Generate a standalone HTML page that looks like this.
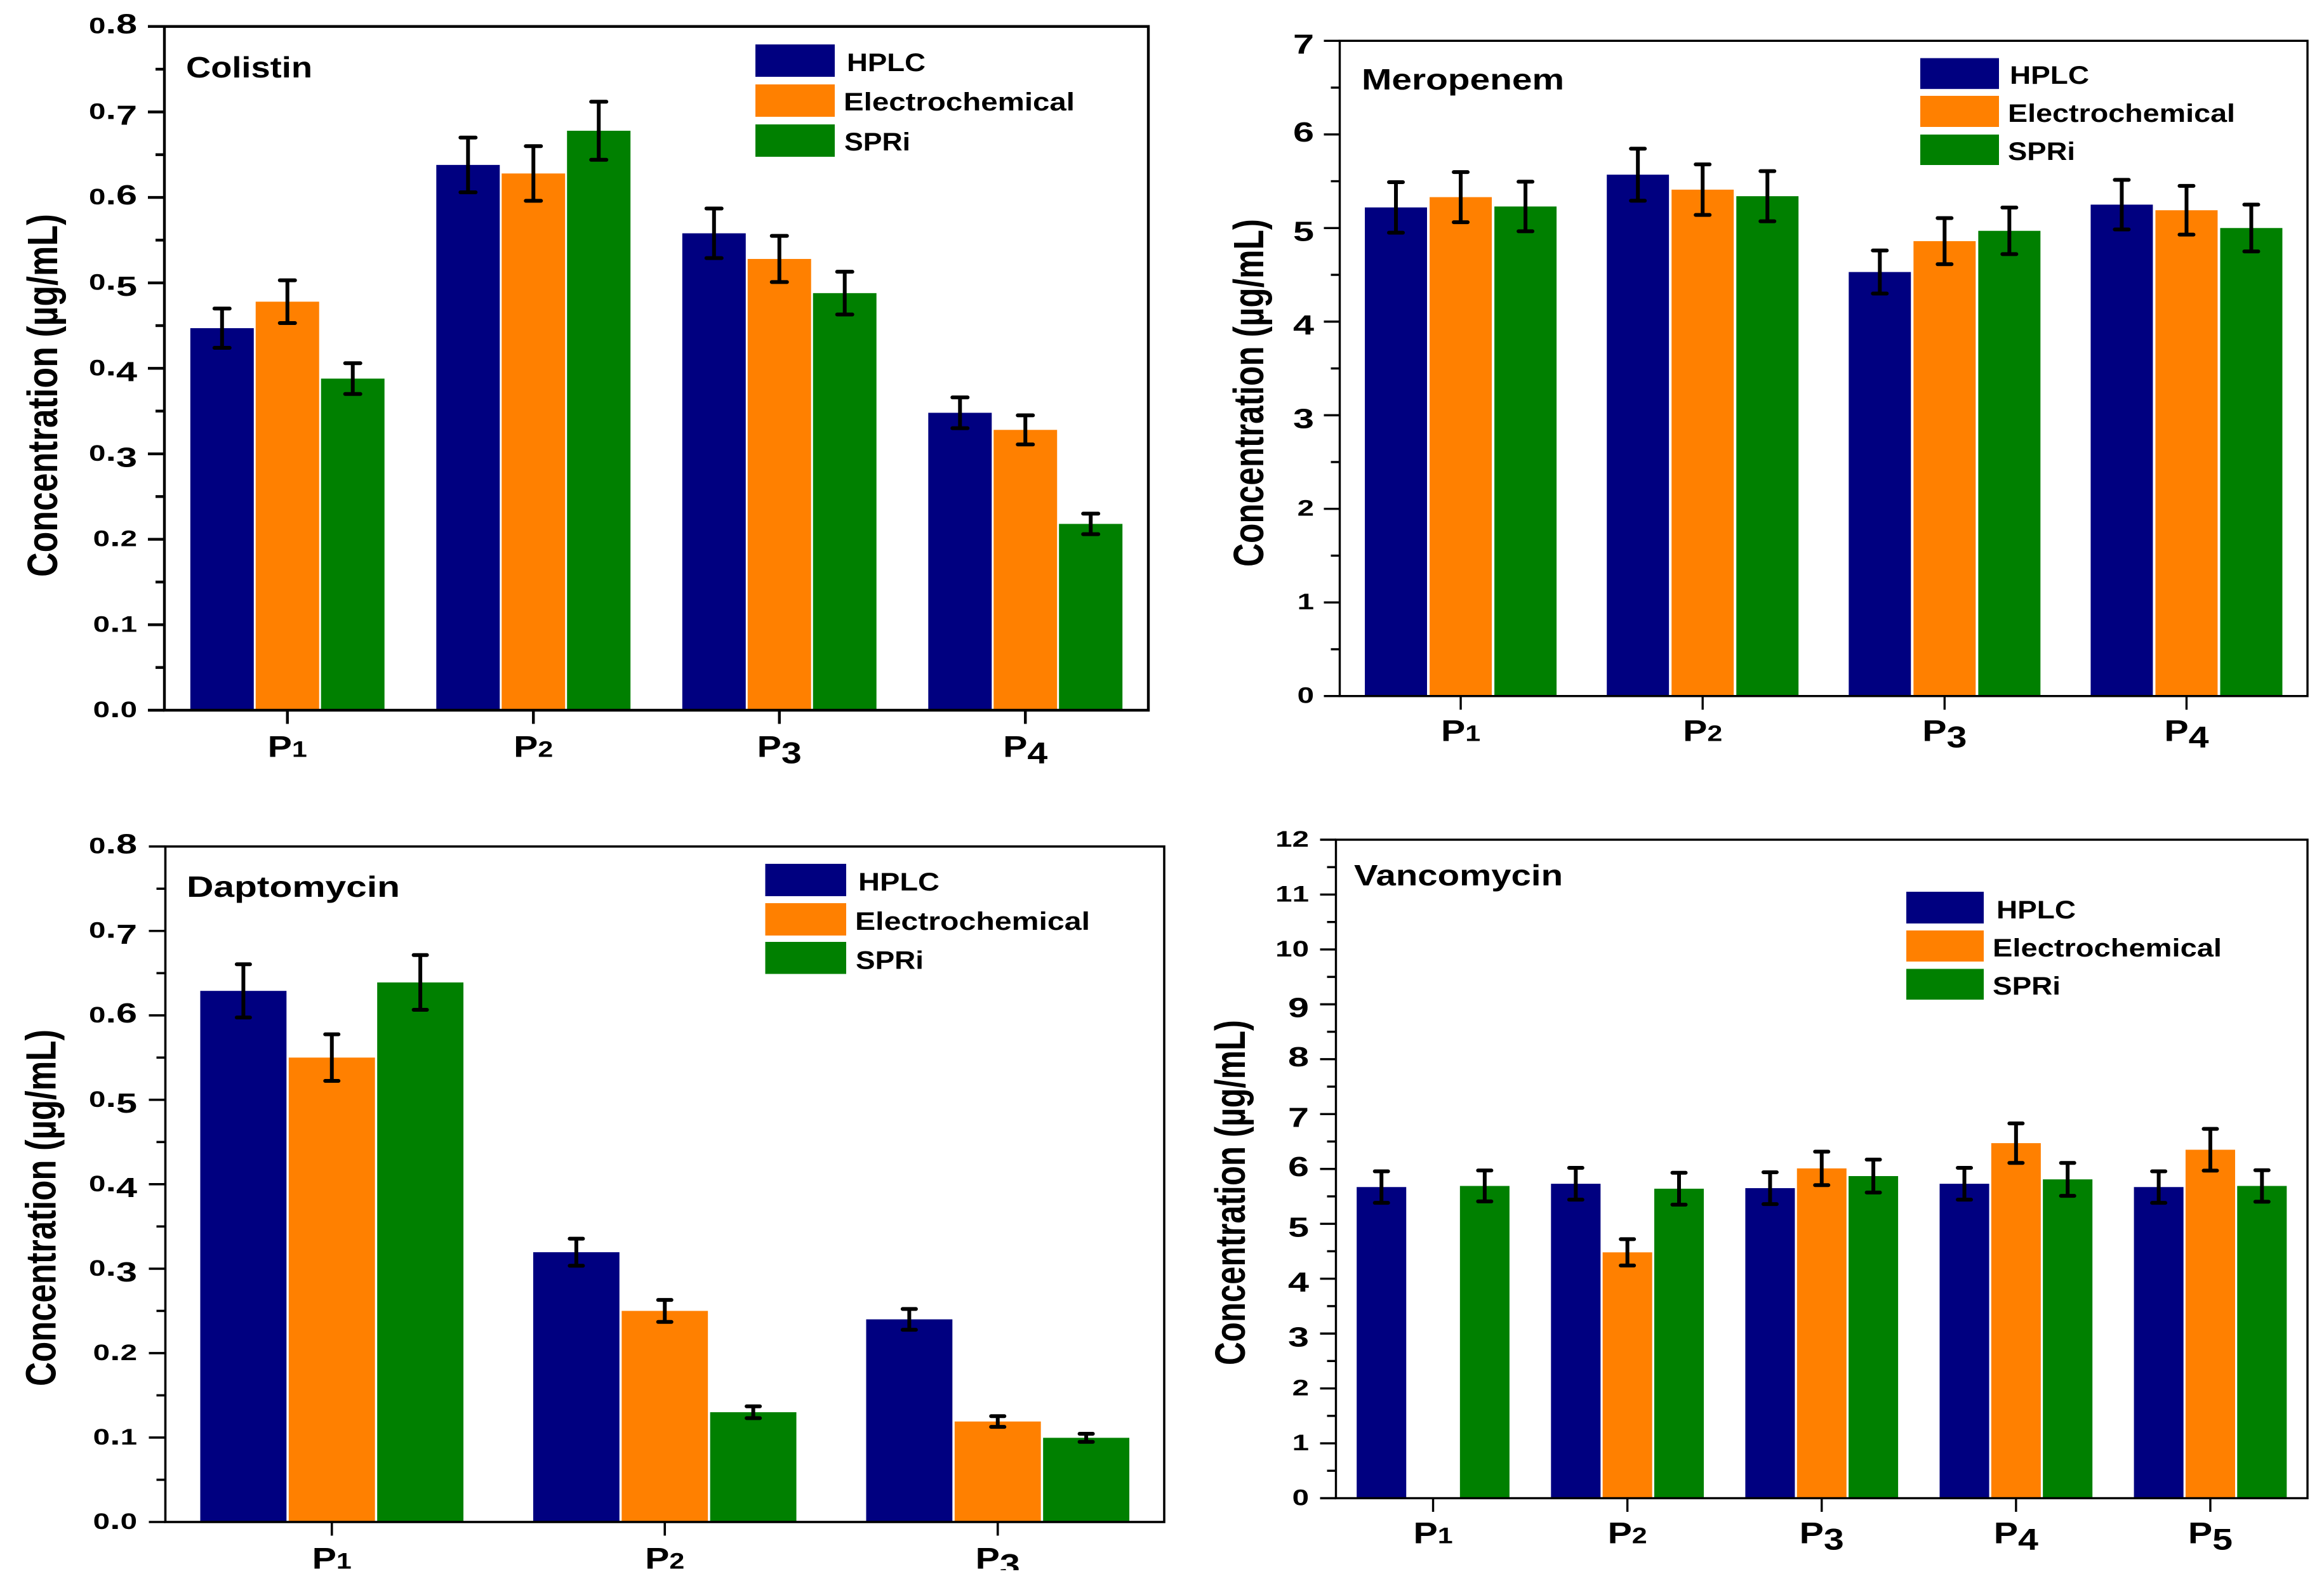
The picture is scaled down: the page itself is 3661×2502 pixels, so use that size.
<!DOCTYPE html>
<html lang="en">
<head>
<meta charset="utf-8">
<title>Antibiotic concentration comparison: HPLC, Electrochemical, SPRi</title>
<style>
  html, body { margin: 0; padding: 0; background: #ffffff; }
  body { width: 3661px; height: 2502px; overflow: hidden; }
  svg { display: block; font-family: "Liberation Sans", "DejaVu Sans", sans-serif; font-weight: 700; }
</style>
</head>
<body>
<svg id="chart" xmlns="http://www.w3.org/2000/svg" width="3661" height="2502" viewBox="0 0 3661 2502">
  <rect x="0" y="0" width="3661" height="2502" fill="#ffffff"/>
</svg>
<script>
// ---- Shared series names and colours ----
const seriesNames = ['HPLC', 'Electrochemical', 'SPRi'];
const seriesColors = ['#000080', '#ff8000', '#008000'];

// ---- Colistin ----
const colistinCategories = ['P1', 'P2', 'P3', 'P4'];
const colistinTicks = ['0.0', '0.1', '0.2', '0.3', '0.4', '0.5', '0.6', '0.7', '0.8'];
const colistinHplc = [0.447, 0.638, 0.558, 0.348];
const colistinElectro = [0.478, 0.628, 0.528, 0.328];
const colistinSpri = [0.388, 0.678, 0.488, 0.218];
const colistinHplcErr = [0.023, 0.032, 0.029, 0.018];
const colistinElectroErr = [0.025, 0.032, 0.027, 0.017];
const colistinSpriErr = [0.018, 0.034, 0.025, 0.012];

// ---- Meropenem ----
const meropenemCategories = ['P1', 'P2', 'P3', 'P4'];
const meropenemTicks = ['0', '1', '2', '3', '4', '5', '6', '7'];
const meropenemHplc = [5.22, 5.57, 4.53, 5.25];
const meropenemElectro = [5.33, 5.41, 4.86, 5.19];
const meropenemSpri = [5.23, 5.34, 4.97, 5.0];
const meropenemHplcErr = [0.27, 0.278, 0.23, 0.265];
const meropenemElectroErr = [0.268, 0.27, 0.246, 0.26];
const meropenemSpriErr = [0.265, 0.268, 0.249, 0.25];

// ---- Daptomycin ----
const daptomycinCategories = ['P1', 'P2', 'P3'];
const daptomycinTicks = ['0.0', '0.1', '0.2', '0.3', '0.4', '0.5', '0.6', '0.7', '0.8'];
const daptomycinHplc = [0.629, 0.3195, 0.24];
const daptomycinElectro = [0.55, 0.25, 0.119];
const daptomycinSpri = [0.639, 0.13, 0.0997];
const daptomycinHplcErr = [0.0315, 0.016, 0.0123];
const daptomycinElectroErr = [0.0276, 0.013, 0.0063];
const daptomycinSpriErr = [0.0324, 0.007, 0.0048];

// ---- Vancomycin ----
const vancomycinCategories = ['P1', 'P2', 'P3', 'P4', 'P5'];
const vancomycinTicks = ['0', '1', '2', '3', '4', '5', '6', '7', '8', '9', '10', '11', '12'];
const vancomycinHplc = [5.67, 5.73, 5.65, 5.73, 5.67];
const vancomycinElectro = [null, 4.48, 6.01, 6.47, 6.35];
const vancomycinSpri = [5.69, 5.64, 5.87, 5.81, 5.69];
const vancomycinHplcErr = [0.287, 0.29, 0.29, 0.29, 0.287];
const vancomycinElectroErr = [null, 0.24, 0.305, 0.36, 0.38];
const vancomycinSpriErr = [0.282, 0.29, 0.30, 0.30, 0.287];

// ---- Panel layout (geometry only) ----
const panels = [
  { key: 'colistin', title: 'Colistin', cats: colistinCategories, ticks: colistinTicks,
    vals: [colistinHplc, colistinElectro, colistinSpri],
    errs: [colistinHplcErr, colistinElectroErr, colistinSpriErr],
    left: 259, right: 1809, top: 41.7, bottom: 1119, capW: 30, lineW: 4.4,
    slotFrac: 0.2657, barFrac: 0.258, majorLen: 26,
    titleBox: [293, 122, 199], labelRight: 216, xLabelY: 1192.7,
    yTitle: [90, 909, 572],
    swatch: [1190, 125], swatchY: [[70, 51], [133, 51], [196, 51]],
    legendText: [[1334, 112, 124], [1329, 174, 364], [1330, 237, 104]] },
  { key: 'meropenem', title: 'Meropenem', cats: meropenemCategories, ticks: meropenemTicks,
    vals: [meropenemHplc, meropenemElectro, meropenemSpri],
    errs: [meropenemHplcErr, meropenemElectroErr, meropenemSpriErr],
    left: 2110.5, right: 3635, top: 64.3, bottom: 1096.7, capW: 28, lineW: 3.4,
    slotFrac: 0.2677, barFrac: 0.257, majorLen: 25,
    titleBox: [2145, 141, 319], labelRight: 2070, xLabelY: 1167.7,
    yTitle: [1990, 893, 548],
    swatch: [3025, 124], swatchY: [[91.6, 48.6], [151, 49], [212, 48]],
    legendText: [[3166, 132, 125], [3163, 192, 358], [3163, 252, 106]] },
  { key: 'daptomycin', title: 'Daptomycin', cats: daptomycinCategories, ticks: daptomycinTicks,
    vals: [daptomycinHplc, daptomycinElectro, daptomycinSpri],
    errs: [daptomycinHplcErr, daptomycinElectroErr, daptomycinSpriErr],
    left: 260.5, right: 1834, top: 1333.7, bottom: 2398, capW: 27, lineW: 3.6,
    slotFrac: 0.2657, barFrac: 0.259, majorLen: 26,
    titleBox: [294, 1413, 336], labelRight: 216, xLabelY: 2471.7,
    yTitle: [87.5, 2184, 562],
    swatch: [1205.5, 127.5], swatchY: [[1361, 51], [1423, 51], [1484, 50.5]],
    legendText: [[1352, 1403, 128], [1347, 1465, 370], [1348, 1526.5, 107]] },
  { key: 'vancomycin', title: 'Vancomycin', cats: vancomycinCategories, ticks: vancomycinTicks,
    vals: [vancomycinHplc, vancomycinElectro, vancomycinSpri],
    errs: [vancomycinHplcErr, vancomycinElectroErr, vancomycinSpriErr],
    left: 2104.5, right: 3635, top: 1323, bottom: 2360.5, capW: 27, lineW: 3.4,
    slotFrac: 0.2657, barFrac: 0.255, majorLen: 25,
    titleBox: [2133, 1395, 329], labelRight: 2062, xLabelY: 2431.7,
    yTitle: [1961, 2151, 544],
    swatch: [3003, 122], swatchY: [[1405, 50], [1466, 49], [1526.5, 48.5]],
    legendText: [[3145, 1447, 125], [3139, 1507, 361], [3139, 1567, 107]] }
];

const NS = 'http://www.w3.org/2000/svg';
const root = document.getElementById('chart');

function el(tag, attrs, parent) {
  const node = document.createElementNS(NS, tag);
  for (const k in attrs) node.setAttribute(k, attrs[k]);
  parent.appendChild(node);
  return node;
}

// Axis functions
function yScale(p, v) {
  const max = parseFloat(p.ticks[p.ticks.length - 1]);
  return p.bottom - (v / max) * (p.bottom - p.top);
}
function xCenter(p, i) {
  return p.left + (i + 0.5) * (p.right - p.left) / p.cats.length;
}
function groupWidth(p) {
  return (p.right - p.left) / p.cats.length;
}

// Old-style figures drawn with ordinary text: per-digit size and baseline shift
function oldStyleText(textNode, str, base, smallRatio) {
  let prev = 0;
  for (const ch of str) {
    let size = base, shift = 0;
    if ('012'.includes(ch)) size = base * smallRatio;
    if ('34579'.includes(ch)) shift = base * 0.21;
    const t = el('tspan', { 'font-size': size, dy: shift - prev }, textNode);
    t.textContent = ch;
    prev = shift;
  }
}

panels.forEach(function (p) {
  const g = el('g', {}, root);
  
  

  const slot = groupWidth(p) * p.slotFrac;
  const barW = groupWidth(p) * p.barFrac;

  // Bars
  p.vals.forEach(function (series, s) {
    series.forEach(function (v, i) {
      if (v === null) return;
      const y = yScale(p, v);
      const cx = xCenter(p, i) + (s - 1) * slot;
      const bar = el('rect', { x: cx - barW / 2, y: y, width: barW, height: p.bottom - y, fill: seriesColors[s] }, g);
      
      
    });
  });

  // Error bars
  const errStroke = 6;
  p.errs.forEach(function (series, s) {
    series.forEach(function (e, i) {
      if (e === null) return;
      const v = p.vals[s][i];
      const cx = xCenter(p, i) + (s - 1) * slot;
      const yHi = yScale(p, v + e);
      const yLo = yScale(p, v - e);
      const hw = p.capW / 2 - errStroke / 2;
      const eb = el('path', {
        d: 'M' + cx + ' ' + yHi + 'V' + yLo + 'M' + (cx - hw) + ' ' + yHi + 'H' + (cx + hw) + 'M' + (cx - hw) + ' ' + yLo + 'H' + (cx + hw),
        stroke: '#000', 'stroke-width': errStroke, 'stroke-linecap': 'round', fill: 'none'
      }, g);
      
      
    });
  });

  // Frame
  const frame = el('rect', { x: p.left, y: p.top, width: p.right - p.left, height: p.bottom - p.top, fill: 'none', stroke: '#000', 'stroke-width': p.lineW }, g);
  
  

  // Y ticks and labels
  p.ticks.forEach(function (label, i) {
    const v = parseFloat(label);
    const y = yScale(p, v);
    const tick = el('line', { x1: p.left - p.majorLen, x2: p.left, y1: y, y2: y, stroke: '#000', 'stroke-width': p.lineW }, g);
    
    
    if (i < p.ticks.length - 1) {
      const ym = yScale(p, (v + parseFloat(p.ticks[i + 1])) / 2);
      const minor = el('line', { x1: p.left - 14, x2: p.left, y1: ym, y2: ym, stroke: '#000', 'stroke-width': p.lineW }, g);
      
      
    }
    const txt = el('text', { transform: 'translate(' + p.labelRight + ',' + (y + 11) + ') scale(1.35,1)', 'text-anchor': 'end', 'font-size': 44, fill: '#000' }, g);
    
    
    oldStyleText(txt, label, 44, 0.8);
  });

  // X ticks and labels
  p.cats.forEach(function (label, i) {
    const cx = xCenter(p, i);
    const tick = el('line', { x1: cx, x2: cx, y1: p.bottom, y2: p.bottom + 21.5, stroke: '#000', 'stroke-width': p.lineW }, g);
    
    
    const txt = el('text', { transform: 'translate(' + cx + ',' + p.xLabelY + ') scale(1.22,1)', 'text-anchor': 'middle', 'font-size': 47, fill: '#000' }, g);
    
    
    oldStyleText(txt, label, 47, 0.75);
  });

  // Panel title
  const title = el('text', { x: p.titleBox[0], y: p.titleBox[1], 'font-size': 46, textLength: p.titleBox[2], lengthAdjust: 'spacingAndGlyphs', fill: '#000' }, g);
  
  
  title.textContent = p.title;

  // Y axis title
  const yt = el('text', { transform: 'translate(' + p.yTitle[0] + ',' + p.yTitle[1] + ') rotate(-90)', 'font-size': 67, textLength: p.yTitle[2], lengthAdjust: 'spacingAndGlyphs', fill: '#000' }, g);
  
  
  yt.textContent = 'Concentration (\u00b5g/mL)';

  // Legend
  const lg = el('g', {}, g);
  
  
  seriesNames.forEach(function (name, s) {
    const sw = el('rect', { x: p.swatch[0], y: p.swatchY[s][0], width: p.swatch[1], height: p.swatchY[s][1], fill: seriesColors[s] }, lg);
    
    
    const lt = el('text', { x: p.legendText[s][0], y: p.legendText[s][1], 'font-size': 40, textLength: p.legendText[s][2], lengthAdjust: 'spacingAndGlyphs', fill: '#000' }, lg);
    
    
    lt.textContent = name;
  });
});

// The reference crops the bottom of the daptomycin x labels
const cropMask = el('rect', { x: 0, y: 2474, width: 1900, height: 28, fill: '#ffffff' }, root);


</script>
</body>
</html>
